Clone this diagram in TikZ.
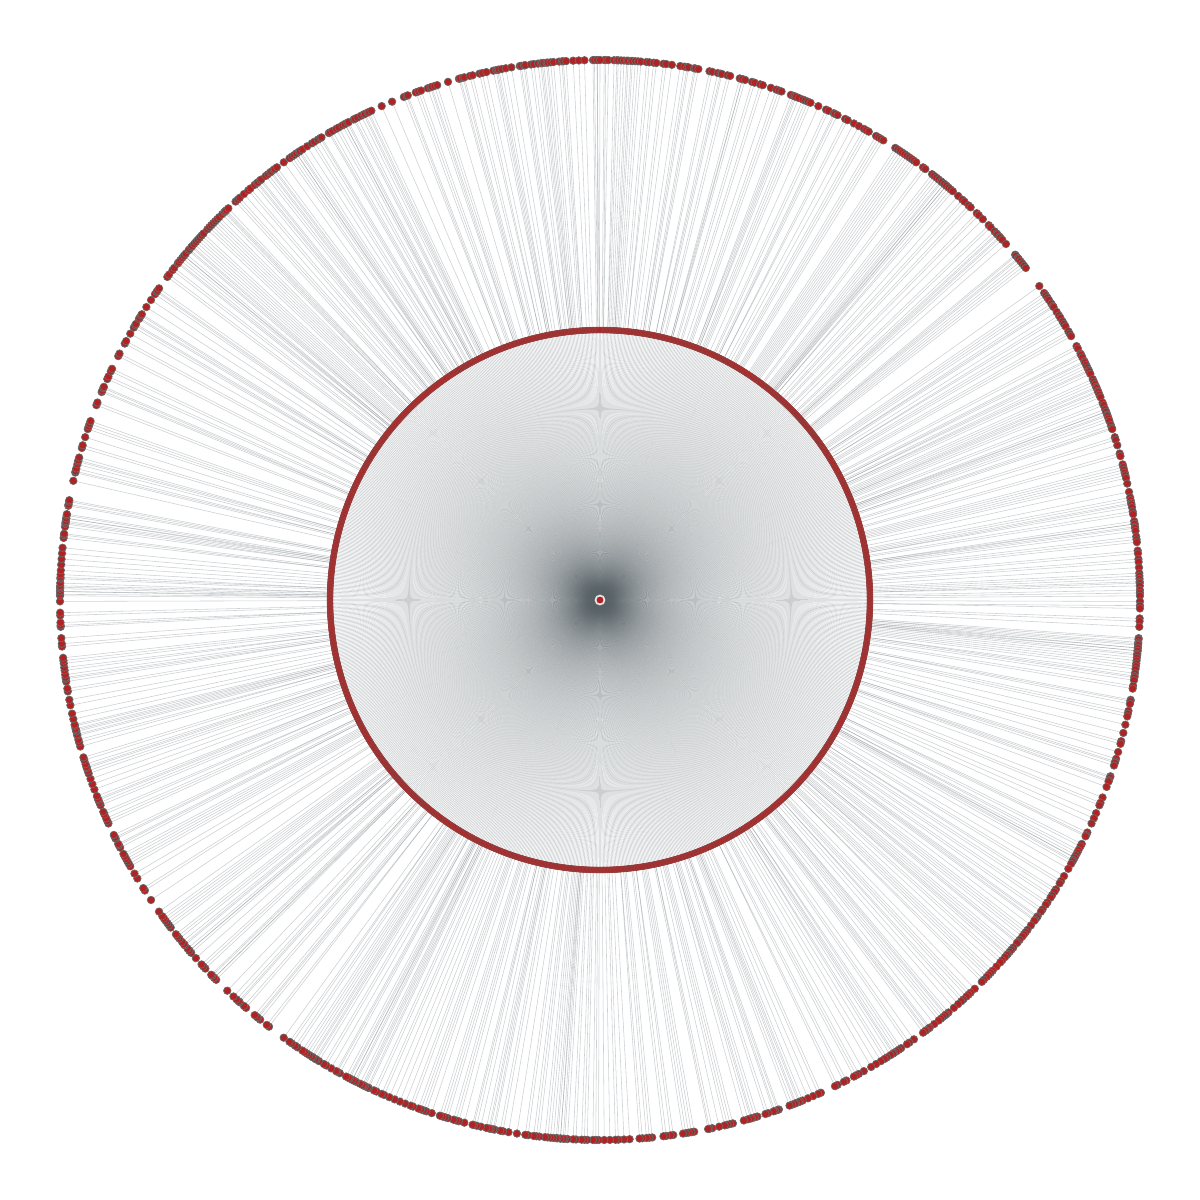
\documentclass[tikz,border=0pt]{standalone}
\usetikzlibrary{positioning}
\pgfdeclarelayer{background}
\pgfsetlayers{background,main}
\definecolor{nodered}{RGB}{178,34,34}
\definecolor{rimgray}{RGB}{105,105,105}
\definecolor{linkgray}{RGB}{85,95,100}
\begin{document}
\begin{tikzpicture}[
  hub/.style={circle, fill=nodered, draw=white!80!gray, line width=0.5pt, inner sep=0pt, minimum size=0.09cm},
  ring dot/.style={circle, fill=nodered, draw=rimgray!45!nodered, line width=0.15pt, inner sep=0pt, minimum size=0.06cm},
  leaf dot/.style={circle, fill=nodered, draw=rimgray, line width=0.2pt, inner sep=0pt, minimum size=0.075cm},
  links/.style={draw=linkgray, line width=0.16pt, opacity=0.3}]
  \useasboundingbox (-6,-6) rectangle (6,6);
  \node[hub] (hub) at (0,0) {};
  % ring nodes, each with zero to two leaves
  \pgfmathsetseed{31}
  \foreach \i in {1,...,1200}{
    \pgfmathrandominteger{\r}{1}{10}
    \pgfmathtruncatemacro{\c}{\r<5 ? 0 : (\r<10 ? 1 : 2)}
    \expandafter\xdef\csname kids\i\endcsname{\c}
    \pgfmathsetmacro{\ang}{90-(\i-0.5)*0.3}
    \node[ring dot] (in\i) at (\ang:2.7) {};
    \ifnum\c>0
      \foreach \k in {1,...,\c}{
        \pgfmathsetmacro{\kang}{\ang-(\k-(\c+1)/2)*0.3}
        \node[leaf dot] (out\i-\k) at (\kang:5.4) {};
      }
    \fi
  }
  % links under the nodes
  \begin{pgfonlayer}{background}
  \begin{scope}[links]
    \foreach \i in {1,...,1200}{
      \edef\c{\csname kids\i\endcsname}
      \pgfmathsetmacro{\ang}{90-(\i-0.5)*0.3}
      \draw (hub.center) -- (in\i.center);
      \ifnum\c>0
        \foreach \k in {1,...,\c}{
          \pgfmathsetmacro{\kang}{\ang-(\k-(\c+1)/2)*0.3}
          \draw (in\i.center) .. controls (\ang:4.05) and (\kang:4.05) .. (out\i-\k.center);
        }
      \fi
    }
  \end{scope}
  \end{pgfonlayer}
\end{tikzpicture}
\end{document}
